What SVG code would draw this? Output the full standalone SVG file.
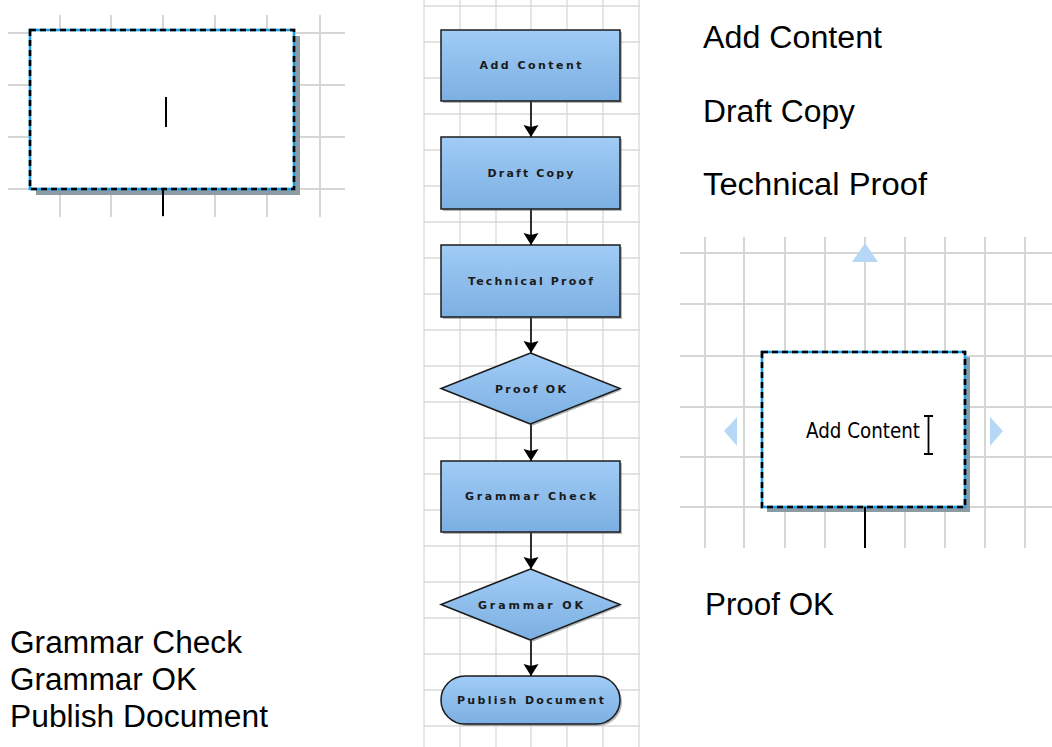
<svg xmlns="http://www.w3.org/2000/svg" width="1052" height="747" viewBox="0 0 1052 747">
<defs>
<linearGradient id="blue" x1="0" y1="0" x2="0" y2="1">
<stop offset="0" stop-color="#a0ccf6"/>
<stop offset="1" stop-color="#7cafe2"/>
</linearGradient>
<marker id="arr" markerUnits="userSpaceOnUse" markerWidth="16" markerHeight="16" refX="12" refY="7.5" orient="auto">
<path d="M0,0 L12,7.5 L0,15 L2,7.5 Z" fill="#000"/>
</marker>
<style>
.g1{stroke:#d6d6d6;stroke-width:2;fill:none}
.g2{stroke:#d9d9d9;stroke-width:1.3;fill:none}
.node{fill:url(#blue);stroke:#1c1c1c;stroke-width:1.5}
.shadow{fill:#55606a;opacity:0.45}
.nt{font-family:"DejaVu Sans",sans-serif;font-size:11px;font-weight:bold;fill:#1a1a1a;text-anchor:middle;dominant-baseline:central}
.big{font-family:"Liberation Sans",Arial,sans-serif;font-size:31px;fill:#000}
.conn{stroke:#000;stroke-width:1.6;fill:none}
.selb{fill:#fff;stroke:#1aa0ea;stroke-width:2.6}
.seld{fill:none;stroke:#000;stroke-width:2.6;stroke-dasharray:6 4}
.sshadow{fill:#8c9ca4}
.hint{fill:#b6d8f6}
</style>
</defs>
<rect width="1052" height="747" fill="#fff"/>

<g id="grid-left">
<path class="g1" d="M8,33H345M8,85H345M8,137H345M8,189H345M60,15V217M111,15V217M163,15V217M215,15V217M267,15V217M320,15V217"/>
</g>
<g id="grid-middle">
<path class="g2" d="M424,0V747M460,0V747M496,0V747M531,0V747M567,0V747M603,0V747M639,0V747"/>
<path class="g2" d="M424,6H640M424,42H640M424,78H640M424,114H640M424,150H640M424,186H640M424,222H640M424,258H640M424,294H640M424,330H640M424,366H640M424,402H640M424,438H640M424,474H640M424,510H640M424,546H640M424,582H640M424,618H640M424,654H640M424,690H640M424,726H640"/>
</g>
<g id="grid-right">
<path class="g1" d="M680,253H1052M680,304H1052M680,356H1052M680,407H1052M680,457H1052M680,507H1052M705,237V548M744,237V548M785,237V548M825,237V548M865,237V548M905,237V548M945,237V548M985,237V548M1025,237V548"/>
</g>

<g id="edit-box-left">
<rect class="sshadow" x="36" y="36" width="264" height="159"/>
<rect class="selb" x="30" y="30" width="264" height="159"/>
<rect class="seld" x="30" y="30" width="264" height="159"/>
<line x1="166" y1="97" x2="166" y2="127" stroke="#000" stroke-width="2"/>
<line x1="163" y1="189" x2="163" y2="216" stroke="#000" stroke-width="2"/>
</g>

<g id="connectors">
<line class="conn" x1="531" y1="101" x2="531" y2="137" marker-end="url(#arr)"/>
<line class="conn" x1="531" y1="209" x2="531" y2="245" marker-end="url(#arr)"/>
<line class="conn" x1="531" y1="317" x2="531" y2="353" marker-end="url(#arr)"/>
<line class="conn" x1="531" y1="424" x2="531" y2="461" marker-end="url(#arr)"/>
<line class="conn" x1="531" y1="532" x2="531" y2="569" marker-end="url(#arr)"/>
<line class="conn" x1="531" y1="640" x2="531" y2="676" marker-end="url(#arr)"/>
</g>

<g id="n-add-content">
<rect class="shadow" x="443" y="32" width="179" height="71"/>
<rect class="node" x="441" y="30" width="179" height="71"/>
<text class="nt" x="530.5" y="65" textLength="102" lengthAdjust="spacing">Add Content</text>
</g>
<g id="n-draft-copy">
<rect class="shadow" x="443" y="139" width="179" height="72"/>
<rect class="node" x="441" y="137" width="179" height="72"/>
<text class="nt" x="530.5" y="173" textLength="86" lengthAdjust="spacing">Draft Copy</text>
</g>
<g id="n-technical-proof">
<rect class="shadow" x="443" y="247" width="179" height="72"/>
<rect class="node" x="441" y="245" width="179" height="72"/>
<text class="nt" x="530.5" y="281" textLength="125" lengthAdjust="spacing">Technical Proof</text>
</g>
<g id="n-proof-ok">
<polygon class="shadow" points="532,355 622,390 532,426 443,390"/>
<polygon class="node" points="530.5,353 620,388.5 530.5,424 441,388.5"/>
<text class="nt" x="530.5" y="389" textLength="71" lengthAdjust="spacing">Proof OK</text>
</g>
<g id="n-grammar-check">
<rect class="shadow" x="443" y="463" width="179" height="71"/>
<rect class="node" x="441" y="461" width="179" height="71"/>
<text class="nt" x="530.5" y="496" textLength="131" lengthAdjust="spacing">Grammar Check</text>
</g>
<g id="n-grammar-ok">
<polygon class="shadow" points="532,571 622,606 532,642 443,606"/>
<polygon class="node" points="530.5,569 620,604.5 530.5,640 441,604.5"/>
<text class="nt" x="530.5" y="605" textLength="105" lengthAdjust="spacing">Grammar OK</text>
</g>
<g id="n-publish-document">
<rect class="shadow" x="443" y="678" width="179" height="48" rx="24"/>
<rect class="node" x="441" y="676" width="179" height="48" rx="24"/>
<text class="nt" x="530.5" y="700" textLength="147" lengthAdjust="spacing">Publish Document</text>
</g>

<g id="edit-box-right">
<polygon class="hint" points="865,243 878,262 852,262"/>
<polygon class="hint" points="724,431 737,417 737,446"/>
<polygon class="hint" points="1003,431 990,417 990,446"/>
<rect class="sshadow" x="767" y="357" width="203" height="155"/>
<rect class="selb" x="762" y="352" width="203" height="155"/>
<rect class="seld" x="762" y="352" width="203" height="155"/>
<text x="806" y="438" font-family="'DejaVu Sans Condensed','DejaVu Sans',sans-serif" font-size="21" fill="#000" textLength="114" lengthAdjust="spacingAndGlyphs">Add Content</text>
<path d="M924,416H933M928.5,416V454M924,454H933" stroke="#000" stroke-width="1.8" fill="none"/>
<line x1="865" y1="507" x2="865" y2="548" stroke="#000" stroke-width="2"/>
</g>

<g id="labels">
<text class="big" x="703" y="48" textLength="179" lengthAdjust="spacingAndGlyphs">Add Content</text>
<text class="big" x="703" y="122" textLength="152" lengthAdjust="spacingAndGlyphs">Draft Copy</text>
<text class="big" x="703" y="195" textLength="224" lengthAdjust="spacingAndGlyphs">Technical Proof</text>
<text class="big" x="705" y="615" textLength="129" lengthAdjust="spacingAndGlyphs">Proof OK</text>
<text class="big" x="10" y="653" textLength="232" lengthAdjust="spacingAndGlyphs">Grammar Check</text>
<text class="big" x="10" y="690" textLength="187" lengthAdjust="spacingAndGlyphs">Grammar OK</text>
<text class="big" x="10" y="727" textLength="258" lengthAdjust="spacingAndGlyphs">Publish Document</text>
</g>
</svg>
